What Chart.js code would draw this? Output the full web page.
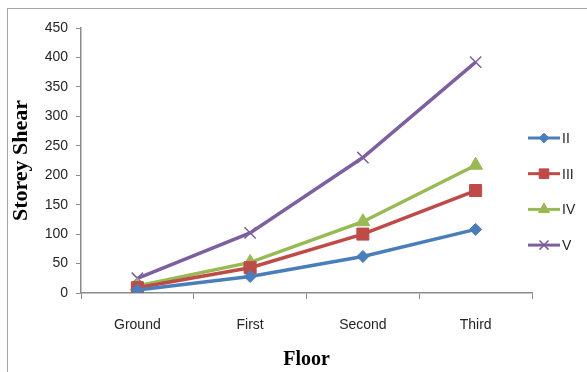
<!DOCTYPE html>
<html>
<head>
<meta charset="utf-8">
<script src="https://cdn.jsdelivr.net/npm/chart.js@4.4.1/dist/chart.umd.min.js"></script>
<style>
    html, body { margin: 0; padding: 0; background: #fff; overflow: hidden; }
    #frame {
        position: absolute; left: 7px; top: 8px; width: 620px; height: 420px;
        border: 1px solid #a6a6a6; box-sizing: border-box;
    }
    #wrap { position: absolute; left: 0; top: 0; width: 587px; height: 372px; }
</style>
</head>
<body>
<div id="frame"></div>
<div id="wrap"><canvas id="chart" width="587" height="372"></canvas></div>
<script>
// Data
const floors = ["Ground", "First", "Second", "Third"];
const seriesNames = ["II", "III", "IV", "V"];
const zoneII = [5, 28, 62, 108];
const zoneIII = [9, 43, 100, 174];
const zoneIV = [12, 52, 121, 217];
const zoneV = [25, 102, 230, 392];
const yTicks = [0, 50, 100, 150, 200, 250, 300, 350, 400, 450];

const COLORS = {
    blue: "#4a7ebb",
    red: "#be4b48",
    green: "#98b954",
    purple: "#7d60a0",
    axis: "#8c8c8c",
    text: "#262626",
};

const tickFont = { family: "'Liberation Sans', Arial, sans-serif", size: 14 };
const titleFont = { family: "'Liberation Serif', 'Times New Roman', serif", size: 20, weight: "bold" };

function series(label, data, color, pointStyle, radius) {
    return {
        label, data,
        borderColor: color,
        backgroundColor: color,
        borderWidth: 3.5,
        pointStyle,
        pointRadius: radius,
        pointBorderColor: color,
        pointBackgroundColor: color,
        pointBorderWidth: pointStyle === "crossRot" ? 1.5 : 1,
        tension: 0,
    };
}

const datasets = [
    series(seriesNames[0], zoneII, COLORS.blue, "rectRot", 6),
    series(seriesNames[1], zoneIII, COLORS.red, "rect", 8.5),
    series(seriesNames[2], zoneIV, COLORS.green, "triangle", 8),
    series(seriesNames[3], zoneV, COLORS.purple, "crossRot", 8),
];

// Legend on the right: line sample with the marker in the middle
const sideLegend = {
    id: "sideLegend",
    afterDraw(chart) {
        const ctx = chart.ctx;
        const x0 = 528, x1 = 560, yStart = 138, step = 35.7;
        chart.data.datasets.forEach((ds, i) => {
            const y = yStart + i * step;
            ctx.save();
            ctx.strokeStyle = ds.borderColor;
            ctx.lineWidth = 3;
            ctx.beginPath();
            ctx.moveTo(x0, y);
            ctx.lineTo(x1, y);
            ctx.stroke();
            ctx.fillStyle = ds.pointBackgroundColor;
            ctx.strokeStyle = ds.pointBorderColor;
            ctx.lineWidth = ds.pointBorderWidth;
            Chart.helpers.drawPoint(ctx, {
                pointStyle: ds.pointStyle,
                radius: ds.pointRadius * 0.8,
                rotation: 0,
                borderWidth: ds.pointBorderWidth,
            }, (x0 + x1) / 2, y);
            ctx.fillStyle = COLORS.text;
            ctx.font = "14px 'Liberation Sans', Arial, sans-serif";
            ctx.textBaseline = "middle";
            ctx.textAlign = "left";
            ctx.fillText(ds.label, x1 + 2, y + 1);
            ctx.restore();
        });
    },
};

new Chart(document.getElementById("chart"), {
    type: "line",
    data: { labels: floors, datasets },
    options: {
        responsive: false,
        animation: false,
        devicePixelRatio: 1,
        layout: { padding: { left: 0, right: 55, top: 28, bottom: 0 } },
        plugins: {
            legend: { display: false },
            tooltip: { enabled: false },
        },
        scales: {
            x: {
                offset: true,
                grid: {
                    offset: true,
                    drawOnChartArea: false,
                    drawTicks: true,
                    tickLength: 6,
                    color: COLORS.axis,
                },
                border: { color: COLORS.axis, width: 1.5 },
                ticks: { color: COLORS.text, font: tickFont, padding: 18, maxRotation: 0 },
                title: {
                    display: true, text: "Floor", color: "#000",
                    font: titleFont, padding: { top: 4, bottom: 0 },
                },
                afterFit(scale) { scale.height = 79; },
            },
            y: {
                min: 0,
                max: 450,
                afterBuildTicks(scale) { scale.ticks = yTicks.map(v => ({ value: v })); },
                grid: {
                    drawOnChartArea: false,
                    drawTicks: true,
                    tickLength: 5,
                    color: COLORS.axis,
                },
                border: { color: COLORS.axis, width: 1.5 },
                ticks: { color: COLORS.text, font: tickFont, padding: 8 },
                title: {
                    display: true, text: "Storey Shear", color: "#000",
                    font: { ...titleFont, size: 22 }, padding: { top: 8, bottom: 0 },
                },
                afterFit(scale) { scale.width = 81; },
            },
        },
    },
    plugins: [sideLegend],
});
</script>
</body>
</html>
